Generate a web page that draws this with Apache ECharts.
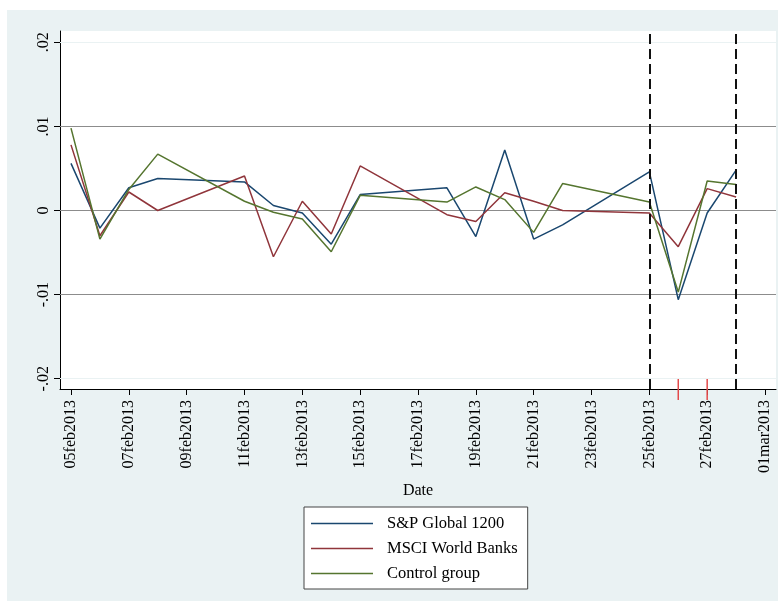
<!DOCTYPE html>
<html>
<head>
<meta charset="utf-8">
<script src="https://cdn.jsdelivr.net/npm/echarts@6/dist/echarts.min.js"></script>
<style>
  html, body { margin: 0; padding: 0; background: #ffffff; }
  #frame { position: absolute; left: 7px; top: 10px; width: 771px; height: 591px; background: #eaf2f3; }
  #chart { position: absolute; left: 0; top: 0; width: 784px; height: 610px; }
</style>
</head>
<body>
<div id="frame"></div>
<div id="chart"></div>
<script>
// Trading days (February 2013)
const dates = ['2013-02-05','2013-02-06','2013-02-07','2013-02-08','2013-02-11','2013-02-12',
  '2013-02-13','2013-02-14','2013-02-15','2013-02-18','2013-02-19','2013-02-20','2013-02-21',
  '2013-02-22','2013-02-25','2013-02-26','2013-02-27','2013-02-28'];

// Daily returns
const spGlobal1200 = [0.0056, -0.0021, 0.0027, 0.0038, 0.0034, 0.0006, -0.0003, -0.0040, 0.0019,
  0.0027, -0.0031, 0.0072, -0.0034, -0.0017, 0.0046, -0.0106, -0.0003, 0.0048];
const msciWorldBanks = [0.0078, -0.0030, 0.0022, 0.0000, 0.0041, -0.0055, 0.0011, -0.0028, 0.0053,
  -0.0005, -0.0013, 0.0021, 0.0011, 0.0000, -0.0003, -0.0043, 0.0026, 0.0016];
const controlGroup = [0.0098, -0.0034, 0.0025, 0.0067, 0.0011, -0.0002, -0.0010, -0.0049, 0.0018,
  0.0010, 0.0028, 0.0013, -0.0026, 0.0032, 0.0010, -0.0097, 0.0035, 0.0031];

const seriesNames = ['S&P Global 1200', 'MSCI World Banks', 'Control group'];

// Axis ticks
const xTickDates = ['2013-02-05','2013-02-07','2013-02-09','2013-02-11','2013-02-13','2013-02-15',
  '2013-02-17','2013-02-19','2013-02-21','2013-02-23','2013-02-25','2013-02-27','2013-03-01'];
const xTickLabels = ['05feb2013','07feb2013','09feb2013','11feb2013','13feb2013','15feb2013',
  '17feb2013','19feb2013','21feb2013','23feb2013','25feb2013','27feb2013','01mar2013'];
const yTicks = [-0.02, -0.01, 0, 0.01, 0.02];
const yTickLabels = ['-.02', '-.01', '0', '.01', '.02'];

// Horizontal reference lines and event window markers
const refLevels = [0.0096, 0, -0.0055];
const windowDates = ['2013-02-25', '2013-02-28'];
const eventDates = ['2013-02-26', '2013-02-27'];

const origin = Date.UTC(2013, 1, 5);
function dayOf(s) {
  const p = s.split('-').map(Number);
  return (Date.UTC(p[0], p[1] - 1, p[2]) - origin) / 86400000;
}
const xTickDays = xTickDates.map(dayOf);
const yMin = -0.02122, yMax = 0.02134;

const serif = 'Liberation Serif';
const colors = ['#1a476f', '#90353b', '#55752f'];
const valueSets = [spGlobal1200, msciWorldBanks, controlGroup];

const lineSeries = seriesNames.map((name, i) => ({
  name: name,
  type: 'line',
  symbol: 'none',
  z: 3,
  lineStyle: { color: colors[i], width: 1.5 },
  itemStyle: { color: colors[i] },
  data: dates.map((d, k) => [dayOf(d), valueSets[i][k]])
}));

const chart = echarts.init(document.getElementById('chart'), null, { renderer: 'canvas' });
chart.setOption({
  animation: false,
  backgroundColor: 'transparent',
  grid: {
    left: 60, top: 31, right: 8, bottom: 221,
    show: true, backgroundColor: '#ffffff', borderWidth: 0
  },
  xAxis: {
    type: 'value',
    min: -0.38, max: 24.38,
    name: 'Date',
    nameLocation: 'middle',
    nameGap: 94,
    nameTextStyle: { fontFamily: serif, fontSize: 16, color: '#000' },
    axisLine: { show: true, onZero: false, lineStyle: { color: '#000', width: 1 } },
    axisTick: { show: true, customValues: xTickDays, length: 6, lineStyle: { color: '#000' } },
    axisLabel: {
      customValues: xTickDays,
      rotate: 90,
      margin: 11,
      fontFamily: serif, fontSize: 16, color: '#000',
      formatter: function (v) {
        const i = xTickDays.indexOf(v);
        return i >= 0 ? xTickLabels[i] : '';
      }
    },
    splitLine: { show: false }
  },
  yAxis: {
    type: 'value',
    min: yMin, max: yMax,
    axisLine: { show: true, onZero: false, lineStyle: { color: '#000', width: 1 } },
    axisTick: { show: true, customValues: yTicks, length: 6, lineStyle: { color: '#000' } },
    axisLabel: {
      customValues: yTicks,
      rotate: 90,
      margin: 8,
      fontFamily: serif, fontSize: 16, color: '#000',
      formatter: function (v) {
        const i = yTicks.findIndex(t => Math.abs(t - v) < 1e-9);
        return i >= 0 ? yTickLabels[i] : '';
      }
    },
    splitLine: { show: false }
  },
  legend: {
    data: seriesNames.map(n => ({ name: n, icon: 'rect' })),
    orient: 'vertical',
    left: 304, top: 507,
    padding: [8, 10, 7, 7],
    itemWidth: 62, itemHeight: 1.5, itemGap: 8,
    backgroundColor: '#ffffff',
    borderColor: '#444', borderWidth: 1, borderRadius: 0,
    textStyle: { fontFamily: serif, fontSize: 16.5, color: '#000', lineHeight: 16, padding: [0, 0, 0, 9] }
  },
  series: [
    {
      // grid lines and reference levels
      type: 'line',
      data: [],
      z: 1,
      markLine: {
        silent: true,
        symbol: 'none',
        label: { show: false },
        z: 1,
        data: yTicks.map(v => ({ yAxis: v, lineStyle: { color: '#eaf2f3', width: 1, type: 'solid' } }))
          .concat(refLevels.map(v => ({ yAxis: v, lineStyle: { color: '#8c8c8c', width: 1.2, type: 'solid' } })))
      }
    },
    ...lineSeries,
    {
      // event window boundaries
      type: 'line',
      data: [],
      z: 6,
      markLine: {
        silent: true,
        symbol: 'none',
        label: { show: false },
        z: 6,
        data: windowDates.map(d => ({ xAxis: dayOf(d), lineStyle: { color: '#111', width: 2, type: [10, 5] } }))
      }
    },
    {
      // short red markers on the date axis
      type: 'custom',
      clip: false,
      z: 7,
      data: eventDates.map(d => [dayOf(d)]),
      renderItem: function (params, api) {
        const p = api.coord([api.value(0), yMin]);
        return {
          type: 'line',
          shape: { x1: p[0], y1: p[1] - 10, x2: p[0], y2: p[1] + 11 },
          style: { stroke: '#e34a4a', lineWidth: 1.5 }
        };
      }
    }
  ]
});
</script>
</body>
</html>
